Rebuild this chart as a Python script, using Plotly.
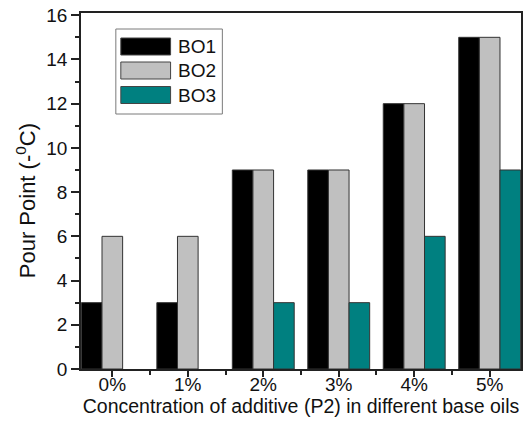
import plotly.graph_objects as go

# Pour point depression by additive concentration, per base oil
concentrations = ["0%", "1%", "2%", "3%", "4%", "5%"]
series_names = ["BO1", "BO2", "BO3"]
bo1 = [3, 3, 9, 9, 12, 15]
bo2 = [6, 6, 9, 9, 12, 15]
bo3 = [0, 0, 3, 3, 6, 9]
series_values = [bo1, bo2, bo3]
series_colors = ["#000000", "#c0c0c0", "#008080"]

W, H = 527, 441
M_L, M_R, M_T, M_B = 81, 4, 13, 72
PW, PH = W - M_L - M_R, H - M_T - M_B

xpos = list(range(len(concentrations)))

fig = go.Figure()
for name, vals, col in zip(series_names, series_values, series_colors):
    # no outline on zero-height bars so nothing shows on the baseline
    outline = [1 if v else 0 for v in vals]
    fig.add_trace(go.Bar(
        x=xpos, y=vals, name=name,
        marker=dict(color=col, line=dict(color="#333333", width=outline)),
        showlegend=False,
    ))

font = "Liberation Sans, Arial, sans-serif"

fig.update_layout(
    width=W, height=H,
    margin=dict(l=M_L, r=M_R, t=M_T, b=M_B, pad=0),
    paper_bgcolor="white", plot_bgcolor="white",
    barmode="group", bargap=0.18, bargroupgap=0,
    font=dict(family=font, size=19, color="#111111"),
    xaxis=dict(
        range=[-0.415, 5.415],
        tickmode="array", tickvals=xpos, ticktext=concentrations,
        ticks="outside", ticklen=6, tickwidth=1.5, tickcolor="#222",
        ticklabelstandoff=-9,
        minor=dict(tick0=0.5, dtick=1, ticks="outside", ticklen=4,
                   tickwidth=1.5, tickcolor="#222"),
        showline=True, linecolor="#222", linewidth=1.5, mirror=True,
        showgrid=False, zeroline=False,
        tickfont=dict(size=19),
        title=dict(text="Concentration of additive (P2) in different base oils",
                   font=dict(size=19.5), standoff=2),
    ),
    yaxis=dict(
        range=[0, 16.1],
        tick0=0, dtick=2,
        ticks="outside", ticklen=8, tickwidth=1.5, tickcolor="#222",
        minor=dict(dtick=1, ticks="outside", ticklen=4,
                   tickwidth=1.5, tickcolor="#222"),
        showline=True, linecolor="#222", linewidth=1.5, mirror=True,
        showgrid=False, zeroline=False,
        tickfont=dict(size=19),
    ),
)


def px_x(px):
    return (px - M_L) / PW


def px_y(py):
    return (H - M_B - py) / PH


# Legend box with wide swatches
shapes = [dict(type="rect", xref="paper", yref="paper",
               x0=px_x(116), x1=px_x(223), y0=px_y(114), y1=px_y(29),
               line=dict(color="#7a7a7a", width=1), fillcolor="white")]
annotations = [dict(xref="paper", yref="paper", x=px_x(26), y=px_y(201),
                    text="Pour Point (-<sup>0</sup>C)", textangle=-90,
                    showarrow=False, xanchor="center", yanchor="middle",
                    font=dict(size=22, color="#111"))]
row_y = [46.5, 70.5, 95]
for name, col, cy in zip(series_names, series_colors, row_y):
    shapes.append(dict(type="rect", xref="paper", yref="paper",
                       x0=px_x(121), x1=px_x(171),
                       y0=px_y(cy + 8.5), y1=px_y(cy - 8.5),
                       line=dict(color="#444444", width=1), fillcolor=col))
    annotations.append(dict(xref="paper", yref="paper", x=px_x(176), y=px_y(cy),
                            text=name, showarrow=False, xanchor="left",
                            yanchor="middle", font=dict(size=19, color="#111")))

fig.update_layout(shapes=shapes, annotations=annotations)

fig.write_html("out.html")
